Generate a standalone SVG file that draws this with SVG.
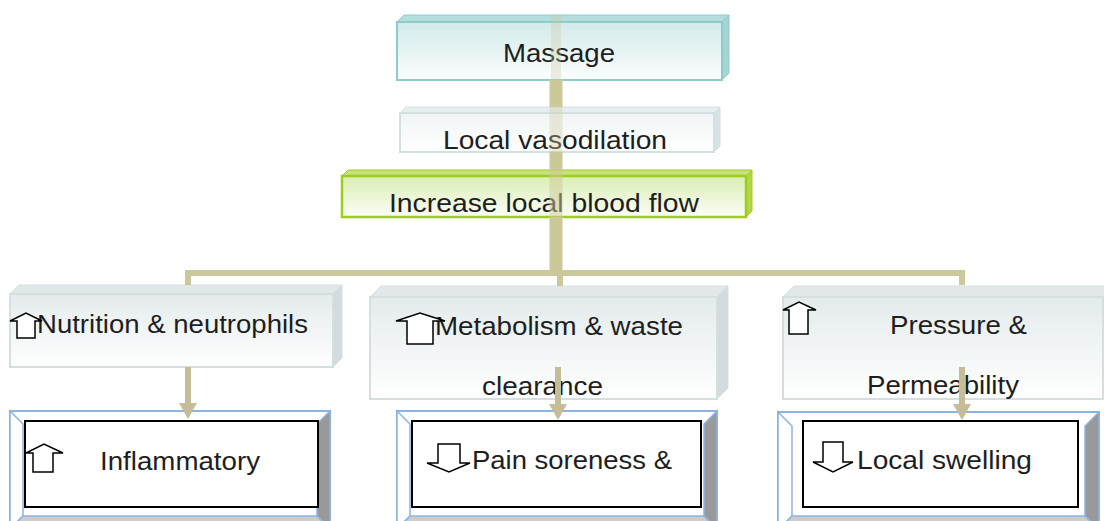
<svg xmlns="http://www.w3.org/2000/svg" width="1104" height="521" viewBox="0 0 1104 521">
<defs>
<linearGradient id="gTeal" x1="0" y1="0" x2="0" y2="1"><stop offset="0" stop-color="#cde8e8"/><stop offset="1" stop-color="#fbfdfd"/></linearGradient>
<linearGradient id="gPale" x1="0" y1="0" x2="0" y2="1"><stop offset="0" stop-color="#eef3f4"/><stop offset="1" stop-color="#ffffff"/></linearGradient>
<linearGradient id="gGreen" x1="0" y1="0" x2="0" y2="1"><stop offset="0" stop-color="#d6ecab"/><stop offset="1" stop-color="#fbfdf5"/></linearGradient>
<linearGradient id="gGrey" x1="0" y1="0" x2="0" y2="1"><stop offset="0" stop-color="#e4ebec"/><stop offset="1" stop-color="#ffffff"/></linearGradient>
<marker id="ah" markerUnits="userSpaceOnUse" markerWidth="16" markerHeight="18" refX="0" refY="9" orient="auto"><path d="M0,0 L16,9 L0,18 Z" fill="#c4bd97"/></marker>
</defs>
<style>
text{font-family:"Liberation Sans",Arial,sans-serif;font-size:25px;fill:#1e1e1e}
.teal .f{fill:url(#gTeal);stroke:#8ecccb;stroke-width:2;fill-opacity:.9}
.teal .t{fill:#b4dede;stroke:#8ecccb;stroke-width:1}
.teal .s{fill:#a6d3d3;stroke:#8ecccb;stroke-width:1}
.pale .f{fill:url(#gPale);stroke:#d3e0e2;stroke-width:2;fill-opacity:.9}
.pale .t{fill:#e6eef0;stroke:#d3e0e2;stroke-width:1}
.pale .s{fill:#d8e2e4;stroke:#d3e0e2;stroke-width:1}
.green .f{fill:url(#gGreen);stroke:#9fcd1e;stroke-width:2.5;fill-opacity:.9}
.green .t{fill:#c4e27a;stroke:#9fcd1e;stroke-width:1}
.green .s{fill:#b2d64c;stroke:#9fcd1e;stroke-width:1}
.grey .f{fill:url(#gGrey);stroke:#d5dfdf;stroke-width:2}
.grey .t{fill:#e2e8e9;stroke:#d5dfdf;stroke-width:1}
.grey .s{fill:#d3dcdd;stroke:#d5dfdf;stroke-width:1}
.bev .o{fill:#ffffff;stroke:#8db3e2;stroke-width:2}
.bev .r{fill:#999999;stroke:#8db3e2;stroke-width:1.5}
.bev .b{fill:#cccccc;stroke:#8db3e2;stroke-width:1.5}
.bev .l{fill:#ffffff;stroke:#8db3e2;stroke-width:1.5}
.bev .i{fill:#ffffff;stroke:#000000;stroke-width:2}
.ic{fill:#ffffff;stroke:#000000;stroke-width:1.5;stroke-linejoin:miter}
.ln{stroke:#cbc89a;fill:none}
.ar{stroke:#c4bd97;stroke-width:6;fill:none}
</style>

<g id="n-massage" class="teal">
<polygon class="t" points="397,22 404,15 729,15 722,22"/>
<polygon class="s" points="722,22 729,15 729,73 722,80"/>
<rect class="f" x="397" y="22" width="325" height="58"/>
<text x="503" y="62" textLength="112" lengthAdjust="spacingAndGlyphs">Massage</text>
</g>

<g id="n-vasodilation" class="pale">
<polygon class="t" points="400,113 406,107 720,107 714,113"/>
<polygon class="s" points="714,113 720,107 720,146 714,152"/>
<rect class="f" x="400" y="113" width="314" height="39"/>
<text x="443" y="149" textLength="224" lengthAdjust="spacingAndGlyphs">Local vasodilation</text>
</g>

<g id="n-bloodflow" class="green">
<polygon class="t" points="342,176 348,170 752,170 746,176"/>
<polygon class="s" points="746,176 752,170 752,211 746,217"/>
<rect class="f" x="342" y="176" width="404" height="41"/>
<text x="389" y="212" textLength="310" lengthAdjust="spacingAndGlyphs">Increase local blood flow</text>
</g>

<g id="n-nutrition" class="grey">
<polygon class="t" points="10,294 19,285 342,285 333,294"/>
<polygon class="s" points="333,294 342,285 342,358 333,367"/>
<rect class="f" x="10" y="294" width="323" height="73"/>
<text x="37" y="333" textLength="271" lengthAdjust="spacingAndGlyphs">Nutrition &amp; neutrophils</text>
<path class="ic" d="M17,338 V321 H10 L26,313 L42,321 H35 V338 Z"/>
</g>

<g id="n-metabolism" class="grey">
<polygon class="t" points="370,297 381,286 728,286 717,297"/>
<polygon class="s" points="717,297 728,286 728,388 717,399"/>
<rect class="f" x="370" y="297" width="347" height="102"/>
<text x="435" y="335" textLength="248" lengthAdjust="spacingAndGlyphs">Metabolism &amp; waste</text>
<text x="482" y="395" textLength="121" lengthAdjust="spacingAndGlyphs">clearance</text>
<path class="ic" d="M407,344 V321 H396 L420,313 L445,321 H433 V344 Z"/>
</g>

<g id="n-pressure" class="grey">
<polygon class="t" points="783,297 794,286 1114,286 1103,297"/>
<rect class="f" x="783" y="297" width="320" height="102"/>
<text x="890" y="334" textLength="137" lengthAdjust="spacingAndGlyphs">Pressure &amp;</text>
<text x="867" y="394" textLength="152" lengthAdjust="spacingAndGlyphs">Permeability</text>
<path class="ic" d="M789,334 V310 H783 L799,302 L816,310 H808 V334 Z"/>
</g>

<g id="n-inflammatory" class="bev">
<rect class="o" x="10" y="411" width="320" height="120"/>
<polygon class="l" points="10,411 23,424 23,516 10,529"/>
<polygon class="r" points="330,411 317,424 317,516 330,529"/>
<polygon class="b" points="10,529 23,516 317,516 330,529"/>
<rect class="i" x="25" y="421" width="293" height="86"/>
<text x="100" y="470" textLength="160" lengthAdjust="spacingAndGlyphs">Inflammatory</text>
<path class="ic" d="M33,472 V453 H26 L44,444 L63,453 H53 V472 Z"/>
</g>

<g id="n-pain" class="bev">
<rect class="o" x="397" y="411" width="320" height="120"/>
<polygon class="l" points="397,411 410,424 410,516 397,529"/>
<polygon class="r" points="717,411 704,424 704,516 717,529"/>
<polygon class="b" points="397,529 410,516 704,516 717,529"/>
<rect class="i" x="412" y="421" width="289" height="86"/>
<text x="472" y="469" textLength="200" lengthAdjust="spacingAndGlyphs">Pain soreness &amp;</text>
<path class="ic" d="M438,444 H460 V463 H470 L449,472 L427,463 H438 Z"/>
</g>

<g id="n-swelling" class="bev">
<rect class="o" x="778" y="412" width="321" height="120"/>
<polygon class="l" points="778,412 792,426 792,516 778,530"/>
<polygon class="r" points="1099,412 1085,426 1085,516 1099,530"/>
<polygon class="b" points="778,530 792,516 1085,516 1099,530"/>
<rect class="i" x="803" y="421" width="275" height="86"/>
<text x="857" y="469" textLength="175" lengthAdjust="spacingAndGlyphs">Local swelling</text>
<path class="ic" d="M823,442 H843 V462 H853 L833,472 L813,462 H823 Z"/>
</g>

<g id="connectors">
<line class="ln" x1="556" y1="15" x2="556" y2="80" stroke-width="10" stroke-opacity="0.3"/>
<line class="ln" x1="556" y1="80" x2="556" y2="107" stroke-width="13"/>
<line class="ln" x1="556" y1="107" x2="556" y2="152" stroke-width="13" stroke-opacity="0.35"/>
<line class="ln" x1="556" y1="152" x2="556" y2="170" stroke-width="13"/>
<line class="ln" x1="556" y1="170" x2="556" y2="217" stroke-width="13" stroke-opacity="0.5"/>
<line class="ln" x1="556" y1="217" x2="556" y2="276" stroke-width="13"/>
<polyline class="ln" stroke-width="6" points="188,285 188,273 962,273 962,285"/>
<line class="ln" x1="560" y1="273" x2="560" y2="286" stroke-width="6"/>
<line class="ar" x1="188" y1="367" x2="188" y2="403" marker-end="url(#ah)"/>
<line class="ar" x1="558" y1="367" x2="558" y2="404" marker-end="url(#ah)"/>
<line class="ar" x1="962" y1="367" x2="962" y2="404" marker-end="url(#ah)"/>
</g>
</svg>
